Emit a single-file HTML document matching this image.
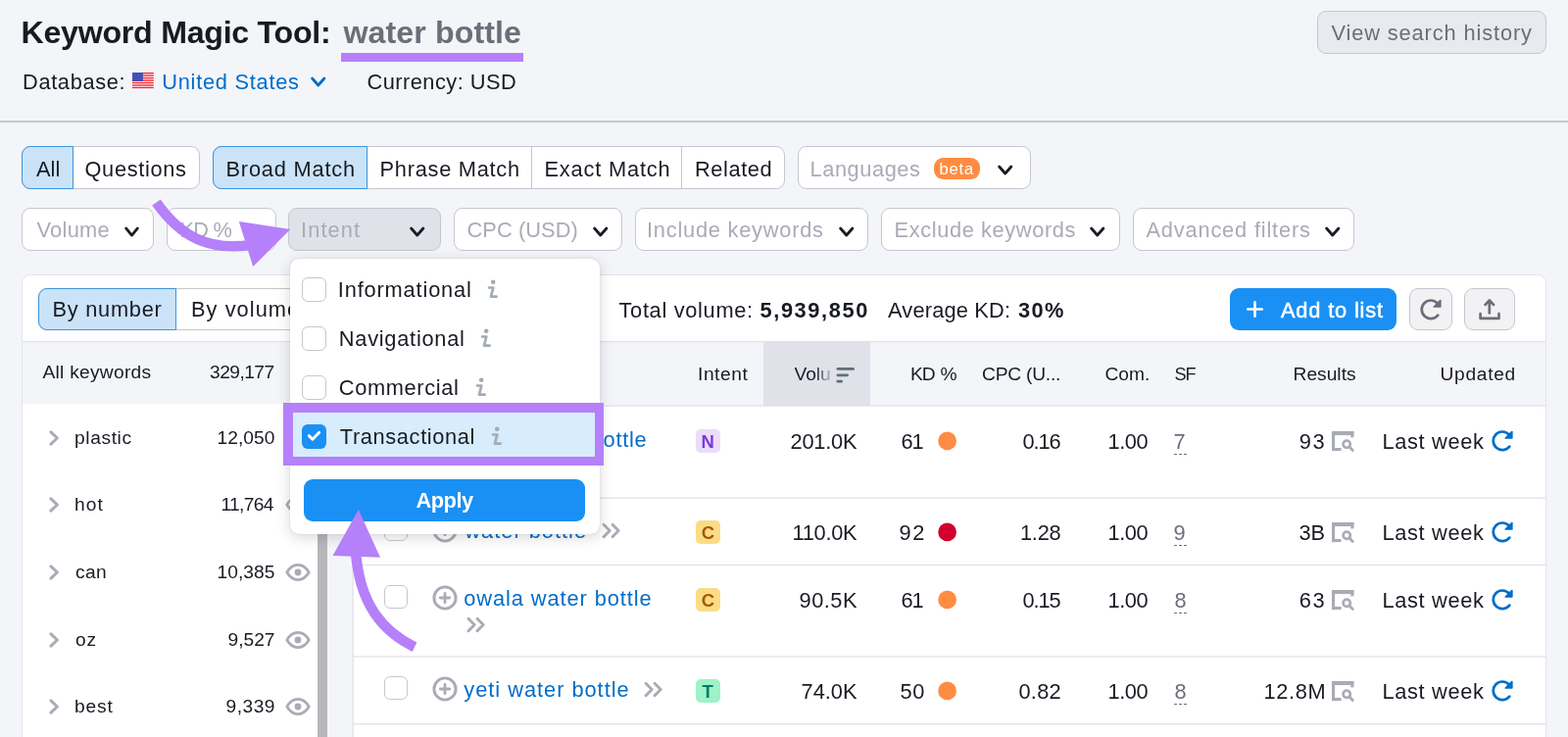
<!DOCTYPE html>
<html lang="en"><head><meta charset="utf-8"><title>Keyword Magic Tool: water bottle</title>
<style>
html,body{margin:0;padding:0}
body{width:1600px;height:752px;overflow:hidden;background:#f4f5f9;position:relative;font-family:"Liberation Sans", sans-serif;}
#r{position:absolute;left:0;top:0;width:1600px;height:752px;overflow:hidden}
#r div,#r span,#r svg{position:absolute;box-sizing:border-box}
#r span{white-space:pre}
#r svg{overflow:visible}
</style></head><body><div id="r">
<span style="left:21.5px;top:14px;font-size:32.2px;line-height:39px;color:#191b23;letter-spacing:-0.28px;font-weight:700;">Keyword Magic Tool:</span>
<span style="left:350.5px;top:14px;font-size:32.2px;line-height:39px;color:#6c6e79;letter-spacing:0.07px;font-weight:700;">water bottle</span>
<div style="left:348px;top:54px;width:186px;height:9px;background:#b580f9"></div>
<span style="left:23px;top:71px;font-size:21.8px;line-height:26px;color:#191b23;letter-spacing:0.65px;">Database:</span>
<svg style="left:135.2px;top:73.8px;" width="22" height="16" viewBox="0 0 22 16"><rect width="21.8" height="16.1" fill="#fff"/>
<g fill="#f5222d"><rect y="0" width="21.8" height="1.35"/><rect y="2.46" width="21.8" height="1.35"/><rect y="4.92" width="21.8" height="1.35"/><rect y="7.38" width="21.8" height="1.35"/><rect y="9.84" width="21.8" height="1.35"/><rect y="12.3" width="21.8" height="1.35"/><rect y="14.75" width="21.8" height="1.35"/></g>
<rect width="10.9" height="9" fill="#4450b2"/></svg>
<span style="left:165.3px;top:71px;font-size:21.8px;line-height:26px;color:#006dca;letter-spacing:0.73px;">United States</span>
<svg style="left:314.5px;top:76.5px;" width="19.5" height="13" viewBox="0 0 19.5 13"><path d="M3.6 2.96 L9.75 10.04 L15.9 2.96" fill="none" stroke="#006dca" stroke-width="2.8" stroke-linecap="round" stroke-linejoin="round"/></svg>
<span style="left:374.5px;top:71px;font-size:21.8px;line-height:26px;color:#191b23;letter-spacing:0.47px;">Currency: USD</span>
<div style="left:1344px;top:11px;width:234px;height:44px;background:#e9eaef;border:1px solid #c4c7cf;border-radius:9px"></div>
<span style="left:1358.5px;top:21px;font-size:21.8px;line-height:26px;color:#6c6e79;letter-spacing:0.88px;">View search history</span>
<div style="left:0px;top:123px;width:1600px;height:2px;background:#c6c8d0"></div>
<div style="left:22px;top:149px;width:182px;height:44px;background:#fff;border:1px solid #c4c7cf;border-radius:9px"></div>
<div style="left:74px;top:150px;width:1px;height:42px;background:#c4c7cf"></div>
<div style="left:22px;top:149px;width:53px;height:44px;background:#cbe3f8;border:1px solid #3a93e0;border-radius:9px 0 0 9px"></div>
<span style="left:37px;top:160px;font-size:21.8px;line-height:26px;color:#191b23;letter-spacing:0.06px;">All</span>
<span style="left:86.5px;top:160px;font-size:21.8px;line-height:26px;color:#191b23;letter-spacing:0.66px;">Questions</span>
<div style="left:217px;top:149px;width:584px;height:44px;background:#fff;border:1px solid #c4c7cf;border-radius:9px"></div>
<div style="left:374px;top:150px;width:1px;height:42px;background:#c4c7cf"></div>
<div style="left:542px;top:150px;width:1px;height:42px;background:#c4c7cf"></div>
<div style="left:695px;top:150px;width:1px;height:42px;background:#c4c7cf"></div>
<div style="left:217px;top:149px;width:158px;height:44px;background:#cbe3f8;border:1px solid #3a93e0;border-radius:9px 0 0 9px"></div>
<span style="left:230.5px;top:160px;font-size:21.8px;line-height:26px;color:#191b23;letter-spacing:0.8px;">Broad Match</span>
<span style="left:387.5px;top:160px;font-size:21.8px;line-height:26px;color:#191b23;letter-spacing:0.74px;">Phrase Match</span>
<span style="left:555.5px;top:160px;font-size:21.8px;line-height:26px;color:#191b23;letter-spacing:0.82px;">Exact Match</span>
<span style="left:709px;top:160px;font-size:21.8px;line-height:26px;color:#191b23;letter-spacing:0.58px;">Related</span>
<div style="left:814px;top:149px;width:238px;height:44px;background:#fff;border:1px solid #c4c7cf;border-radius:9px"></div>
<span style="left:826.5px;top:160px;font-size:21.8px;line-height:26px;color:#a9abb6;letter-spacing:0.57px;">Languages</span>
<div style="left:952.5px;top:161px;width:47.5px;height:21.5px;background:#ff8c43;border-radius:9.5px"></div>
<span style="left:958.5px;top:162px;font-size:16.5px;line-height:20px;color:#fff;letter-spacing:0.85px;">beta</span>
<svg style="left:1016px;top:167.0px;" width="19.5" height="13" viewBox="0 0 19.5 13"><path d="M3.6 2.96 L9.75 10.04 L15.9 2.96" fill="none" stroke="#191b23" stroke-width="2.8" stroke-linecap="round" stroke-linejoin="round"/></svg>
<div style="left:22px;top:212px;width:135px;height:44px;background:#fff;border:1px solid #c4c7cf;border-radius:9px"></div>
<span style="left:37.5px;top:222px;font-size:21.8px;line-height:26px;color:#a9abb6;letter-spacing:0.28px;">Volume</span>
<svg style="left:125px;top:229.5px;" width="19" height="13" viewBox="0 0 19 13"><path d="M3.6 2.96 L9.5 10.04 L15.4 2.96" fill="none" stroke="#191b23" stroke-width="2.8" stroke-linecap="round" stroke-linejoin="round"/></svg>
<div style="left:170px;top:212px;width:112px;height:44px;background:#fff;border:1px solid #c4c7cf;border-radius:9px"></div>
<span style="left:183.5px;top:222px;font-size:21.8px;line-height:26px;color:#a9abb6;letter-spacing:-0.78px;">KD %</span>
<svg style="left:250px;top:229.5px;" width="19" height="13" viewBox="0 0 19 13"><path d="M3.6 2.96 L9.5 10.04 L15.4 2.96" fill="none" stroke="#191b23" stroke-width="2.8" stroke-linecap="round" stroke-linejoin="round"/></svg>
<div style="left:294px;top:212px;width:156px;height:44px;background:#e0e1e9;border:1px solid #c4c7cf;border-radius:9px"></div>
<span style="left:307px;top:222px;font-size:21.8px;line-height:26px;color:#a9abb6;letter-spacing:1.1px;">Intent</span>
<svg style="left:415.5px;top:229.5px;" width="19.5" height="13" viewBox="0 0 19.5 13"><path d="M3.6 2.96 L9.75 10.04 L15.9 2.96" fill="none" stroke="#191b23" stroke-width="2.8" stroke-linecap="round" stroke-linejoin="round"/></svg>
<div style="left:463px;top:212px;width:172px;height:44px;background:#fff;border:1px solid #c4c7cf;border-radius:9px"></div>
<span style="left:476.5px;top:222px;font-size:21.8px;line-height:26px;color:#a9abb6;letter-spacing:0.08px;">CPC (USD)</span>
<svg style="left:602.5px;top:229.5px;" width="19.5" height="13" viewBox="0 0 19.5 13"><path d="M3.6 2.96 L9.75 10.04 L15.9 2.96" fill="none" stroke="#191b23" stroke-width="2.8" stroke-linecap="round" stroke-linejoin="round"/></svg>
<div style="left:648px;top:212px;width:238px;height:44px;background:#fff;border:1px solid #c4c7cf;border-radius:9px"></div>
<span style="left:660px;top:222px;font-size:21.8px;line-height:26px;color:#a9abb6;letter-spacing:0.77px;">Include keywords</span>
<svg style="left:853.5px;top:229.5px;" width="19.5" height="13" viewBox="0 0 19.5 13"><path d="M3.6 2.96 L9.75 10.04 L15.9 2.96" fill="none" stroke="#191b23" stroke-width="2.8" stroke-linecap="round" stroke-linejoin="round"/></svg>
<div style="left:899px;top:212px;width:244px;height:44px;background:#fff;border:1px solid #c4c7cf;border-radius:9px"></div>
<span style="left:912.5px;top:222px;font-size:21.8px;line-height:26px;color:#a9abb6;letter-spacing:0.62px;">Exclude keywords</span>
<svg style="left:1110px;top:229.5px;" width="19.5" height="13" viewBox="0 0 19.5 13"><path d="M3.6 2.96 L9.75 10.04 L15.9 2.96" fill="none" stroke="#191b23" stroke-width="2.8" stroke-linecap="round" stroke-linejoin="round"/></svg>
<div style="left:1156px;top:212px;width:226px;height:44px;background:#fff;border:1px solid #c4c7cf;border-radius:9px"></div>
<span style="left:1169.5px;top:222px;font-size:21.8px;line-height:26px;color:#a9abb6;letter-spacing:0.82px;">Advanced filters</span>
<svg style="left:1349.5px;top:229.5px;" width="19.5" height="13" viewBox="0 0 19.5 13"><path d="M3.6 2.96 L9.75 10.04 L15.9 2.96" fill="none" stroke="#191b23" stroke-width="2.8" stroke-linecap="round" stroke-linejoin="round"/></svg>
<div style="left:22px;top:280px;width:1556px;height:520px;background:#fff;border:1px solid #e4e5ec;border-radius:9px"></div>
<div style="left:39px;top:294px;width:291px;height:43px;background:#fff;border:1px solid #c4c7cf;border-radius:9px"></div>
<div style="left:179px;top:295px;width:1px;height:41px;background:#c4c7cf"></div>
<div style="left:39px;top:294px;width:141px;height:43px;background:#cbe3f8;border:1px solid #3a93e0;border-radius:9px 0 0 9px"></div>
<span style="left:53.5px;top:303px;font-size:21.8px;line-height:26px;color:#191b23;letter-spacing:0.73px;">By number</span>
<span style="left:195px;top:303px;font-size:21.8px;line-height:26px;color:#191b23;letter-spacing:1.05px;">By volume</span>
<span style="left:631.5px;top:304px;font-size:21.8px;line-height:26px;color:#191b23;letter-spacing:0.68px;">Total volume:</span>
<span style="left:775.5px;top:304px;font-size:21.8px;line-height:26px;color:#191b23;letter-spacing:1.6px;font-weight:700;">5,939,850</span>
<span style="left:906px;top:304px;font-size:21.8px;line-height:26px;color:#191b23;letter-spacing:0.19px;">Average KD:</span>
<span style="left:1039px;top:304px;font-size:21.8px;line-height:26px;color:#191b23;letter-spacing:1.38px;font-weight:700;">30%</span>
<div style="left:1255px;top:294px;width:170px;height:43px;background:#1a90f4;border-radius:9px"></div>
<svg style="left:1272px;top:307px;" width="17" height="17" viewBox="0 0 17 17"><path d="M8.5 1.2V15.8M1.2 8.5H15.8" stroke="#fff" stroke-width="2.6" stroke-linecap="round" fill="none"/></svg>
<span style="left:1307px;top:304px;font-size:21.8px;line-height:26px;color:#fff;letter-spacing:0.83px;-webkit-text-stroke:0.5px #fff;">Add to list</span>
<div style="left:1438px;top:294px;width:44px;height:43px;background:#f2f2f4;border:1px solid #c4c7cf;border-radius:9px"></div>
<svg style="left:1448.7px;top:304.95px;" width="23" height="22" viewBox="0 0 23 22"><path d="M17.9 4.5A9.3 9.3 0 1 0 18.3 16.6" fill="none" stroke="#6c6e79" stroke-width="2.7" stroke-linecap="round"/><path d="M14.2 8.1H20.9V1.4Z" fill="#6c6e79" stroke="#6c6e79" stroke-width="1.5" stroke-linejoin="round"/></svg>
<div style="left:1494px;top:294px;width:52px;height:43px;background:#f2f2f4;border:1px solid #c4c7cf;border-radius:9px"></div>
<svg style="left:1509px;top:304px;" width="22" height="23" viewBox="0 0 22 23"><path d="M10.8 15.4V2.6M6.6 6.9L10.8 2.4L15 6.9M1.6 16.2V20.9H20.5V16.2" fill="none" stroke="#6c6e79" stroke-width="2.7" stroke-linecap="round" stroke-linejoin="round"/></svg>
<div style="left:23px;top:348px;width:337px;height:64px;background:#f4f5f9"></div>
<div style="left:360px;top:348px;width:1217px;height:66px;background:#f4f5f9"></div>
<div style="left:23px;top:348px;width:1554px;height:1px;background:rgba(224,225,233,1.00)"></div>
<div style="left:23px;top:349px;width:1554px;height:1px;background:rgba(224,225,233,0.23)"></div>
<div style="left:778.5px;top:349px;width:109.5px;height:65px;background:#e0e1e9"></div>
<div style="left:360px;top:413px;width:1217px;height:1px;background:rgba(224,225,233,0.52)"></div>
<div style="left:360px;top:414px;width:1217px;height:1px;background:rgba(224,225,233,0.73)"></div>
<div style="left:324px;top:412px;width:10px;height:340px;background:#b7b7b9"></div>
<div style="left:334px;top:349px;width:26px;height:403px;background:#f4f5f9"></div>
<div style="left:359px;top:414px;width:1px;height:338px;background:rgba(224,225,233,0.52)"></div>
<div style="left:360px;top:414px;width:1px;height:338px;background:rgba(224,225,233,0.73)"></div>
<span style="left:43.5px;top:368px;font-size:19.2px;line-height:23px;color:#191b23;letter-spacing:0.26px;">All keywords</span>
<span style="left:213.99px;top:368px;font-size:19.2px;line-height:23px;color:#191b23;letter-spacing:-0.53px;">329,177</span>
<span style="left:712px;top:370px;font-size:19.2px;line-height:23px;color:#191b23;letter-spacing:0.56px;">Intent</span>
<span style="left:810.5px;top:370px;font-size:19.2px;line-height:23px;color:#191b23;letter-spacing:-0.06px;background:linear-gradient(90deg,#191b23 55%,#b9bbc4 100%);-webkit-background-clip:text;background-clip:text;color:transparent;">Volu</span>
<svg style="left:853px;top:375px;" width="20" height="16" viewBox="0 0 20 16"><g fill="#5f7079"><rect x="0.5" y="0" width="18.5" height="2.8" rx="1.4"/><rect x="0.5" y="6.4" width="12.5" height="2.8" rx="1.4"/><rect x="0.5" y="12.8" width="6.5" height="2.8" rx="1.4"/></g></svg>
<span style="left:929px;top:370px;font-size:19.2px;line-height:23px;color:#191b23;letter-spacing:-1.0px;word-spacing:1.5px;">KD %</span>
<span style="left:1002px;top:370px;font-size:19.2px;line-height:23px;color:#191b23;letter-spacing:-0.22px;">CPC (U...</span>
<span style="left:1127.5px;top:370px;font-size:19.2px;line-height:23px;color:#191b23;letter-spacing:-0.0px;">Com.</span>
<span style="left:1198.5px;top:371px;font-size:18.2px;line-height:22px;color:#191b23;letter-spacing:-1.1px;">SF</span>
<span style="left:1319.5px;top:370px;font-size:19.2px;line-height:23px;color:#191b23;letter-spacing:0.02px;">Results</span>
<span style="left:1469.5px;top:370px;font-size:19.2px;line-height:23px;color:#191b23;letter-spacing:0.69px;">Updated</span>
<svg style="left:48.3px;top:437px;" width="14" height="20" viewBox="0 0 14 20"><path d="M3.9 3.8L10.4 10L3.9 16.2" fill="none" stroke="#a9abb6" stroke-width="3" stroke-linecap="round" stroke-linejoin="round"/></svg>
<span style="left:76.1px;top:435px;font-size:19.2px;line-height:23px;color:#191b23;letter-spacing:0.6px;">plastic</span>
<span style="left:221.48px;top:435px;font-size:19.2px;line-height:23px;color:#191b23;letter-spacing:0.06px;">12,050</span>
<svg style="left:290.5px;top:438px;" width="26" height="18" viewBox="0 0 26 18"><path d="M1.8 9C4.8 3.8 8.7 1.4 13 1.4S21.2 3.8 24.2 9C21.2 14.2 17.3 16.6 13 16.6S4.8 14.2 1.8 9Z" fill="none" stroke="#a9abb6" stroke-width="2.7" stroke-linejoin="round"/><circle cx="13" cy="9" r="3.4" fill="#a9abb6"/></svg>
<svg style="left:48.3px;top:505.4px;" width="14" height="20" viewBox="0 0 14 20"><path d="M3.9 3.8L10.4 10L3.9 16.2" fill="none" stroke="#a9abb6" stroke-width="3" stroke-linecap="round" stroke-linejoin="round"/></svg>
<span style="left:76.1px;top:503px;font-size:19.2px;line-height:23px;color:#191b23;letter-spacing:1.03px;">hot</span>
<span style="left:225.51px;top:503px;font-size:19.2px;line-height:23px;color:#191b23;letter-spacing:-0.66px;">11,764</span>
<svg style="left:290.5px;top:506.4px;" width="26" height="18" viewBox="0 0 26 18"><path d="M1.8 9C4.8 3.8 8.7 1.4 13 1.4S21.2 3.8 24.2 9C21.2 14.2 17.3 16.6 13 16.6S4.8 14.2 1.8 9Z" fill="none" stroke="#a9abb6" stroke-width="2.7" stroke-linejoin="round"/><circle cx="13" cy="9" r="3.4" fill="#a9abb6"/></svg>
<svg style="left:48.3px;top:573.9px;" width="14" height="20" viewBox="0 0 14 20"><path d="M3.9 3.8L10.4 10L3.9 16.2" fill="none" stroke="#a9abb6" stroke-width="3" stroke-linecap="round" stroke-linejoin="round"/></svg>
<span style="left:77.1px;top:572px;font-size:19.2px;line-height:23px;color:#191b23;letter-spacing:0.32px;">can</span>
<span style="left:221.48px;top:572px;font-size:19.2px;line-height:23px;color:#191b23;letter-spacing:0.06px;">10,385</span>
<svg style="left:290.5px;top:574.9px;" width="26" height="18" viewBox="0 0 26 18"><path d="M1.8 9C4.8 3.8 8.7 1.4 13 1.4S21.2 3.8 24.2 9C21.2 14.2 17.3 16.6 13 16.6S4.8 14.2 1.8 9Z" fill="none" stroke="#a9abb6" stroke-width="2.7" stroke-linejoin="round"/><circle cx="13" cy="9" r="3.4" fill="#a9abb6"/></svg>
<svg style="left:48.3px;top:642.9px;" width="14" height="20" viewBox="0 0 14 20"><path d="M3.9 3.8L10.4 10L3.9 16.2" fill="none" stroke="#a9abb6" stroke-width="3" stroke-linecap="round" stroke-linejoin="round"/></svg>
<span style="left:77.1px;top:641px;font-size:19.2px;line-height:23px;color:#191b23;letter-spacing:0.73px;">oz</span>
<span style="left:232.5px;top:641px;font-size:19.2px;line-height:23px;color:#191b23;letter-spacing:-0.01px;">9,527</span>
<svg style="left:290.5px;top:643.9px;" width="26" height="18" viewBox="0 0 26 18"><path d="M1.8 9C4.8 3.8 8.7 1.4 13 1.4S21.2 3.8 24.2 9C21.2 14.2 17.3 16.6 13 16.6S4.8 14.2 1.8 9Z" fill="none" stroke="#a9abb6" stroke-width="2.7" stroke-linejoin="round"/><circle cx="13" cy="9" r="3.4" fill="#a9abb6"/></svg>
<svg style="left:48.3px;top:711.3px;" width="14" height="20" viewBox="0 0 14 20"><path d="M3.9 3.8L10.4 10L3.9 16.2" fill="none" stroke="#a9abb6" stroke-width="3" stroke-linecap="round" stroke-linejoin="round"/></svg>
<span style="left:76.1px;top:709px;font-size:19.2px;line-height:23px;color:#191b23;letter-spacing:0.82px;">best</span>
<span style="left:230.5px;top:709px;font-size:19.2px;line-height:23px;color:#191b23;letter-spacing:0.49px;">9,339</span>
<svg style="left:290.5px;top:712.3px;" width="26" height="18" viewBox="0 0 26 18"><path d="M1.8 9C4.8 3.8 8.7 1.4 13 1.4S21.2 3.8 24.2 9C21.2 14.2 17.3 16.6 13 16.6S4.8 14.2 1.8 9Z" fill="none" stroke="#a9abb6" stroke-width="2.7" stroke-linejoin="round"/><circle cx="13" cy="9" r="3.4" fill="#a9abb6"/></svg>
<div style="left:360px;top:507px;width:1217px;height:1px;background:rgba(224,225,233,0.52)"></div>
<div style="left:360px;top:508px;width:1217px;height:1px;background:rgba(224,225,233,0.73)"></div>
<div style="left:392px;top:435px;width:24px;height:24px;background:#fff;border:1px solid #c4c7cf;border-radius:6px"></div>
<svg style="left:441.4px;top:435.4px;" width="26" height="26" viewBox="0 0 26 26"><circle cx="13" cy="13" r="11.1" fill="none" stroke="#a9abb6" stroke-width="2.9"/><path d="M13 8.3v9.4M8.3 13h9.4" stroke="#a9abb6" stroke-width="2.8" stroke-linecap="round"/></svg>
<span style="left:473.3px;top:436px;font-size:21.8px;line-height:26px;color:#006dca;letter-spacing:0.73px;">air up water bottle</span>
<svg style="left:475.5px;top:466.5px;" width="20" height="17" viewBox="0 0 20 17"><path d="M2 2.2L8.2 8.5L2 14.8M11 2.2L17.2 8.5L11 14.8" fill="none" stroke="#a9abb6" stroke-width="2.9" stroke-linecap="round" stroke-linejoin="round"/></svg>
<div style="left:710px;top:437.8px;width:24.5px;height:24.19999999999999px;background:#ecdcfb;border-radius:5px"></div>
<span style="left:715.5px;top:440px;font-size:18.5px;line-height:22px;color:#7a3bdc;letter-spacing:1.6px;font-weight:700;">N</span>
<span style="left:806.5px;top:438px;font-size:21.8px;line-height:26px;color:#191b23;letter-spacing:-0.21px;">201.0K</span>
<span style="left:919.58px;top:438px;font-size:21.8px;line-height:26px;color:#191b23;letter-spacing:-1.1px;">61</span>
<svg style="left:956px;top:439px;" width="22" height="22" viewBox="0 0 22 22"><circle cx="10.6" cy="10.9" r="9.35" fill="#ff8c43"/></svg>
<span style="left:1043.5px;top:438px;font-size:21.8px;line-height:26px;color:#191b23;letter-spacing:-1.1px;">0.16</span>
<span style="left:1130.49px;top:438px;font-size:21.8px;line-height:26px;color:#191b23;letter-spacing:-0.43px;">1.00</span>
<span style="left:1197.5px;top:438px;font-size:21.8px;line-height:26px;color:#6c6e79;letter-spacing:0.0px;">7</span>
<div style="left:1197.5px;top:463px;width:13.0px;height:1.1999999999999886px;background:repeating-linear-gradient(90deg,#6c6e79 0 3.2px,transparent 3.2px 4.8px)"></div>
<span style="left:1325.78px;top:438px;font-size:21.8px;line-height:26px;color:#191b23;letter-spacing:1.6px;">93</span>
<svg style="left:1359px;top:440px;" width="24" height="21" viewBox="0 0 24 21"><g fill="#a9abb6"><rect x="0" y="0" width="22.4" height="4.1"/><rect x="0" y="0" width="3.1" height="20.1"/><rect x="0" y="17" width="9.6" height="3.1"/><rect x="19.3" y="0" width="3.1" height="6.4"/></g><circle cx="15.2" cy="13.3" r="3.6" fill="none" stroke="#a9abb6" stroke-width="2.7"/><path d="M18.2 16.3L21.3 19.4" stroke="#a9abb6" stroke-width="2.8" stroke-linecap="round"/></svg>
<span style="left:1410.5px;top:438px;font-size:21.8px;line-height:26px;color:#191b23;letter-spacing:0.66px;">Last week</span>
<svg style="left:1522.4px;top:438.95px;" width="23" height="22" viewBox="0 0 23 22"><path d="M17.9 4.5A9.3 9.3 0 1 0 18.3 16.6" fill="none" stroke="#006dca" stroke-width="2.7" stroke-linecap="round"/><path d="M14.2 8.1H20.9V1.4Z" fill="#006dca" stroke="#006dca" stroke-width="1.5" stroke-linejoin="round"/></svg>
<div style="left:360px;top:575px;width:1217px;height:1px;background:rgba(224,225,233,0.23)"></div>
<div style="left:360px;top:576px;width:1217px;height:1px;background:rgba(224,225,233,1.00)"></div>
<div style="left:392px;top:528px;width:24px;height:24px;background:#fff;border:1px solid #c4c7cf;border-radius:6px"></div>
<svg style="left:441.4px;top:528.4px;" width="26" height="26" viewBox="0 0 26 26"><circle cx="13" cy="13" r="11.1" fill="none" stroke="#a9abb6" stroke-width="2.9"/><path d="M13 8.3v9.4M8.3 13h9.4" stroke="#a9abb6" stroke-width="2.8" stroke-linecap="round"/></svg>
<span style="left:474.3px;top:529px;font-size:21.8px;line-height:26px;color:#006dca;letter-spacing:1.01px;">water bottle</span>
<svg style="left:613.8px;top:533.0px;" width="20" height="17" viewBox="0 0 20 17"><path d="M2 2.2L8.2 8.5L2 14.8M11 2.2L17.2 8.5L11 14.8" fill="none" stroke="#a9abb6" stroke-width="2.9" stroke-linecap="round" stroke-linejoin="round"/></svg>
<div style="left:710px;top:530.8px;width:24.5px;height:24.200000000000045px;background:#fbdc86;border-radius:5px"></div>
<span style="left:715.75px;top:533px;font-size:18.5px;line-height:22px;color:#a75800;letter-spacing:1.5px;font-weight:700;">C</span>
<span style="left:808.52px;top:531px;font-size:21.8px;line-height:26px;color:#191b23;letter-spacing:-0.29px;">110.0K</span>
<span style="left:917.58px;top:531px;font-size:21.8px;line-height:26px;color:#191b23;letter-spacing:1.6px;">92</span>
<svg style="left:956px;top:532px;" width="22" height="22" viewBox="0 0 22 22"><circle cx="10.6" cy="10.9" r="9.35" fill="#d1002f"/></svg>
<span style="left:1041.01px;top:531px;font-size:21.8px;line-height:26px;color:#191b23;letter-spacing:-0.27px;">1.28</span>
<span style="left:1130.49px;top:531px;font-size:21.8px;line-height:26px;color:#191b23;letter-spacing:-0.43px;">1.00</span>
<span style="left:1197.5px;top:531px;font-size:21.8px;line-height:26px;color:#6c6e79;letter-spacing:0.0px;">9</span>
<div style="left:1197.5px;top:556px;width:13.0px;height:1.2000000000000455px;background:repeating-linear-gradient(90deg,#6c6e79 0 3.2px,transparent 3.2px 4.8px)"></div>
<span style="left:1325.5px;top:531px;font-size:21.8px;line-height:26px;color:#191b23;letter-spacing:-0.12px;">3B</span>
<svg style="left:1359px;top:533px;" width="24" height="21" viewBox="0 0 24 21"><g fill="#a9abb6"><rect x="0" y="0" width="22.4" height="4.1"/><rect x="0" y="0" width="3.1" height="20.1"/><rect x="0" y="17" width="9.6" height="3.1"/><rect x="19.3" y="0" width="3.1" height="6.4"/></g><circle cx="15.2" cy="13.3" r="3.6" fill="none" stroke="#a9abb6" stroke-width="2.7"/><path d="M18.2 16.3L21.3 19.4" stroke="#a9abb6" stroke-width="2.8" stroke-linecap="round"/></svg>
<span style="left:1410.5px;top:531px;font-size:21.8px;line-height:26px;color:#191b23;letter-spacing:0.66px;">Last week</span>
<svg style="left:1522.4px;top:531.95px;" width="23" height="22" viewBox="0 0 23 22"><path d="M17.9 4.5A9.3 9.3 0 1 0 18.3 16.6" fill="none" stroke="#006dca" stroke-width="2.7" stroke-linecap="round"/><path d="M14.2 8.1H20.9V1.4Z" fill="#006dca" stroke="#006dca" stroke-width="1.5" stroke-linejoin="round"/></svg>
<div style="left:360px;top:669px;width:1217px;height:1px;background:rgba(224,225,233,0.62)"></div>
<div style="left:360px;top:670px;width:1217px;height:1px;background:rgba(224,225,233,0.62)"></div>
<div style="left:392px;top:597px;width:24px;height:24px;background:#fff;border:1px solid #c4c7cf;border-radius:6px"></div>
<svg style="left:441.4px;top:597.4px;" width="26" height="26" viewBox="0 0 26 26"><circle cx="13" cy="13" r="11.1" fill="none" stroke="#a9abb6" stroke-width="2.9"/><path d="M13 8.3v9.4M8.3 13h9.4" stroke="#a9abb6" stroke-width="2.8" stroke-linecap="round"/></svg>
<span style="left:473.3px;top:598px;font-size:21.8px;line-height:26px;color:#006dca;letter-spacing:0.92px;">owala water bottle</span>
<svg style="left:475.5px;top:628.5px;" width="20" height="17" viewBox="0 0 20 17"><path d="M2 2.2L8.2 8.5L2 14.8M11 2.2L17.2 8.5L11 14.8" fill="none" stroke="#a9abb6" stroke-width="2.9" stroke-linecap="round" stroke-linejoin="round"/></svg>
<div style="left:710px;top:599.8px;width:24.5px;height:24.200000000000045px;background:#fbdc86;border-radius:5px"></div>
<span style="left:715.75px;top:602px;font-size:18.5px;line-height:22px;color:#a75800;letter-spacing:1.5px;font-weight:700;">C</span>
<span style="left:815.5px;top:600px;font-size:21.8px;line-height:26px;color:#191b23;letter-spacing:0.52px;">90.5K</span>
<span style="left:919.58px;top:600px;font-size:21.8px;line-height:26px;color:#191b23;letter-spacing:-1.1px;">61</span>
<svg style="left:956px;top:601px;" width="22" height="22" viewBox="0 0 22 22"><circle cx="10.6" cy="10.9" r="9.35" fill="#ff8c43"/></svg>
<span style="left:1043.5px;top:600px;font-size:21.8px;line-height:26px;color:#191b23;letter-spacing:-1.1px;">0.15</span>
<span style="left:1130.49px;top:600px;font-size:21.8px;line-height:26px;color:#191b23;letter-spacing:-0.43px;">1.00</span>
<span style="left:1198.5px;top:600px;font-size:21.8px;line-height:26px;color:#6c6e79;letter-spacing:-1.0px;">8</span>
<div style="left:1197.5px;top:625px;width:13.0px;height:1.2000000000000455px;background:repeating-linear-gradient(90deg,#6c6e79 0 3.2px,transparent 3.2px 4.8px)"></div>
<span style="left:1325.78px;top:600px;font-size:21.8px;line-height:26px;color:#191b23;letter-spacing:1.6px;">63</span>
<svg style="left:1359px;top:602px;" width="24" height="21" viewBox="0 0 24 21"><g fill="#a9abb6"><rect x="0" y="0" width="22.4" height="4.1"/><rect x="0" y="0" width="3.1" height="20.1"/><rect x="0" y="17" width="9.6" height="3.1"/><rect x="19.3" y="0" width="3.1" height="6.4"/></g><circle cx="15.2" cy="13.3" r="3.6" fill="none" stroke="#a9abb6" stroke-width="2.7"/><path d="M18.2 16.3L21.3 19.4" stroke="#a9abb6" stroke-width="2.8" stroke-linecap="round"/></svg>
<span style="left:1410.5px;top:600px;font-size:21.8px;line-height:26px;color:#191b23;letter-spacing:0.66px;">Last week</span>
<svg style="left:1522.4px;top:600.95px;" width="23" height="22" viewBox="0 0 23 22"><path d="M17.9 4.5A9.3 9.3 0 1 0 18.3 16.6" fill="none" stroke="#006dca" stroke-width="2.7" stroke-linecap="round"/><path d="M14.2 8.1H20.9V1.4Z" fill="#006dca" stroke="#006dca" stroke-width="1.5" stroke-linejoin="round"/></svg>
<div style="left:360px;top:738px;width:1217px;height:1px;background:rgba(224,225,233,0.92)"></div>
<div style="left:360px;top:739px;width:1217px;height:1px;background:rgba(224,225,233,0.33)"></div>
<div style="left:392px;top:690px;width:24px;height:24px;background:#fff;border:1px solid #c4c7cf;border-radius:6px"></div>
<svg style="left:441.4px;top:690.4px;" width="26" height="26" viewBox="0 0 26 26"><circle cx="13" cy="13" r="11.1" fill="none" stroke="#a9abb6" stroke-width="2.9"/><path d="M13 8.3v9.4M8.3 13h9.4" stroke="#a9abb6" stroke-width="2.8" stroke-linecap="round"/></svg>
<span style="left:473.3px;top:691px;font-size:21.8px;line-height:26px;color:#006dca;letter-spacing:0.98px;">yeti water bottle</span>
<svg style="left:657px;top:695.0px;" width="20" height="17" viewBox="0 0 20 17"><path d="M2 2.2L8.2 8.5L2 14.8M11 2.2L17.2 8.5L11 14.8" fill="none" stroke="#a9abb6" stroke-width="2.9" stroke-linecap="round" stroke-linejoin="round"/></svg>
<div style="left:710px;top:692.8px;width:24.5px;height:24.200000000000045px;background:#9ef2c9;border-radius:5px"></div>
<span style="left:716.5px;top:695px;font-size:18.5px;line-height:22px;color:#007c65;letter-spacing:1.0px;font-weight:700;">T</span>
<span style="left:817.5px;top:693px;font-size:21.8px;line-height:26px;color:#191b23;letter-spacing:0.02px;">74.0K</span>
<span style="left:918.5px;top:693px;font-size:21.8px;line-height:26px;color:#191b23;letter-spacing:0.68px;">50</span>
<svg style="left:956px;top:694px;" width="22" height="22" viewBox="0 0 22 22"><circle cx="10.6" cy="10.9" r="9.35" fill="#ff8c43"/></svg>
<span style="left:1039.51px;top:693px;font-size:21.8px;line-height:26px;color:#191b23;letter-spacing:0.23px;">0.82</span>
<span style="left:1130.49px;top:693px;font-size:21.8px;line-height:26px;color:#191b23;letter-spacing:-0.43px;">1.00</span>
<span style="left:1198.5px;top:693px;font-size:21.8px;line-height:26px;color:#6c6e79;letter-spacing:-1.0px;">8</span>
<div style="left:1197.5px;top:718px;width:13.0px;height:1.2000000000000455px;background:repeating-linear-gradient(90deg,#6c6e79 0 3.2px,transparent 3.2px 4.8px)"></div>
<span style="left:1289.52px;top:693px;font-size:21.8px;line-height:26px;color:#191b23;letter-spacing:0.64px;">12.8M</span>
<svg style="left:1359px;top:695px;" width="24" height="21" viewBox="0 0 24 21"><g fill="#a9abb6"><rect x="0" y="0" width="22.4" height="4.1"/><rect x="0" y="0" width="3.1" height="20.1"/><rect x="0" y="17" width="9.6" height="3.1"/><rect x="19.3" y="0" width="3.1" height="6.4"/></g><circle cx="15.2" cy="13.3" r="3.6" fill="none" stroke="#a9abb6" stroke-width="2.7"/><path d="M18.2 16.3L21.3 19.4" stroke="#a9abb6" stroke-width="2.8" stroke-linecap="round"/></svg>
<span style="left:1410.5px;top:693px;font-size:21.8px;line-height:26px;color:#191b23;letter-spacing:0.66px;">Last week</span>
<svg style="left:1522.4px;top:693.95px;" width="23" height="22" viewBox="0 0 23 22"><path d="M17.9 4.5A9.3 9.3 0 1 0 18.3 16.6" fill="none" stroke="#006dca" stroke-width="2.7" stroke-linecap="round"/><path d="M14.2 8.1H20.9V1.4Z" fill="#006dca" stroke="#006dca" stroke-width="1.5" stroke-linejoin="round"/></svg>
<div style="left:296px;top:264px;width:316px;height:281px;background:#fff;border-radius:9px;box-shadow:0 3px 14px rgba(25,27,35,0.18),0 0 1px rgba(25,27,35,0.25)"></div>
<div style="left:289px;top:411px;width:327px;height:64px;background:#d7ecfc;border:solid #b580f9;border-width:10px 9px 9px 10px"></div>
<div style="left:308px;top:283.0px;width:25px;height:25.0px;background:#fff;border:1px solid #c4c7cf;border-radius:6px"></div>
<span style="left:344.8px;top:283px;font-size:21.8px;line-height:26px;color:#191b23;letter-spacing:0.84px;">Informational</span>
<svg style="left:497px;top:283px;" width="12" height="22" viewBox="0 0 12 22"><circle cx="6.2" cy="4.7" r="2.3" fill="#a3acb3"/><path d="M2 10.5H6.3L4 19.7H9.6" fill="none" stroke="#a3acb3" stroke-width="2.7" stroke-linecap="round" stroke-linejoin="round"/></svg>
<div style="left:308px;top:333.0px;width:25px;height:25.0px;background:#fff;border:1px solid #c4c7cf;border-radius:6px"></div>
<span style="left:345.8px;top:333px;font-size:21.8px;line-height:26px;color:#191b23;letter-spacing:0.74px;">Navigational</span>
<svg style="left:490px;top:332.7px;" width="12" height="22" viewBox="0 0 12 22"><circle cx="6.2" cy="4.7" r="2.3" fill="#a3acb3"/><path d="M2 10.5H6.3L4 19.7H9.6" fill="none" stroke="#a3acb3" stroke-width="2.7" stroke-linecap="round" stroke-linejoin="round"/></svg>
<div style="left:308px;top:383.0px;width:25px;height:25.0px;background:#fff;border:1px solid #c4c7cf;border-radius:6px"></div>
<span style="left:345.8px;top:383px;font-size:21.8px;line-height:26px;color:#191b23;letter-spacing:0.64px;">Commercial</span>
<svg style="left:485px;top:382.6px;" width="12" height="22" viewBox="0 0 12 22"><circle cx="6.2" cy="4.7" r="2.3" fill="#a3acb3"/><path d="M2 10.5H6.3L4 19.7H9.6" fill="none" stroke="#a3acb3" stroke-width="2.7" stroke-linecap="round" stroke-linejoin="round"/></svg>
<div style="left:308px;top:433.0px;width:25px;height:25.0px;background:#1a90f4;border-radius:6px"></div>
<svg style="left:308px;top:433.0px;" width="25" height="25" viewBox="0 0 25 25"><path d="M7.3 11.6L10.9 15.2L17.7 8.2" fill="none" stroke="#fff" stroke-width="2.9" stroke-linecap="round" stroke-linejoin="round"/></svg>
<span style="left:346.8px;top:433px;font-size:21.8px;line-height:26px;color:#191b23;letter-spacing:0.63px;">Transactional</span>
<svg style="left:501px;top:432.8px;" width="12" height="22" viewBox="0 0 12 22"><circle cx="6.2" cy="4.7" r="2.3" fill="#a3acb3"/><path d="M2 10.5H6.3L4 19.7H9.6" fill="none" stroke="#a3acb3" stroke-width="2.7" stroke-linecap="round" stroke-linejoin="round"/></svg>
<div style="left:310px;top:489px;width:287px;height:43px;background:#1a90f4;border-radius:9px"></div>
<span style="left:424.5px;top:498px;font-size:21.8px;line-height:26px;color:#fff;letter-spacing:-0.48px;font-weight:700;">Apply</span>
<svg style="left:0px;top:0px;" width="1600" height="752" viewBox="0 0 1600 752"><path d="M159.5 206.5C183 240 212 258 262 249" fill="none" stroke="#b580f9" stroke-width="10.5"/>
<path d="M243.8 226L296.3 234L258.2 272Z" fill="#b580f9"/>
<path d="M423 660.2C392 645 366.2 618 362.8 560" fill="none" stroke="#b580f9" stroke-width="10.5"/>
<path d="M365.8 520L388 568.7L339.5 567Z" fill="#b580f9"/></svg>
</div></body></html>
